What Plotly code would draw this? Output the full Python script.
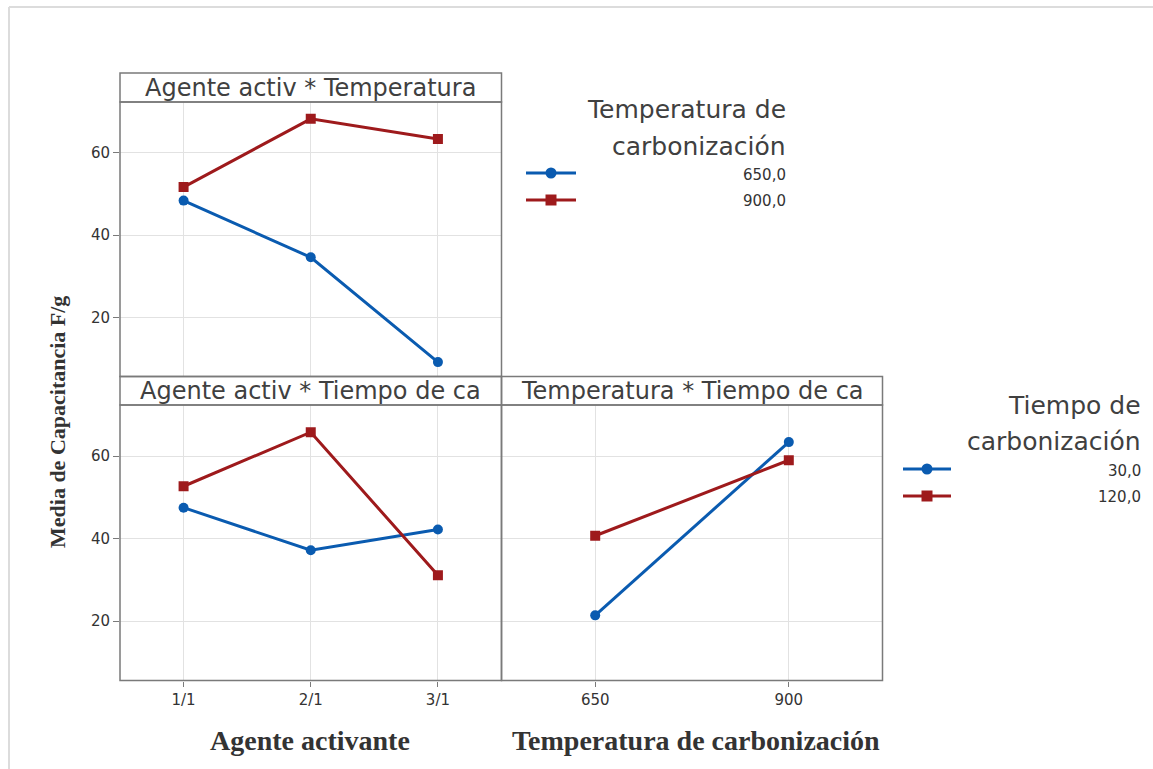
import plotly.graph_objects as go

# ---- data -------------------------------------------------------------
agente = ["1/1", "2/1", "3/1"]
temperaturas = [650, 900]

# Agente activ * Temperatura (one line per carbonization temperature)
at_650 = [48.4, 34.6, 9.1]
at_900 = [51.7, 68.3, 63.4]

# Agente activ * Tiempo de carbonizacion (one line per time)
ac_30 = [47.5, 37.2, 42.2]
ac_120 = [52.7, 65.8, 31.1]

# Temperatura * Tiempo de carbonizacion
tc_30 = [21.4, 63.4]
tc_120 = [40.7, 59.0]

y_ticks = [20, 40, 60]
legend_temp_labels = ["650,0", "900,0"]
legend_time_labels = ["30,0", "120,0"]

# ---- styling ----------------------------------------------------------
W, H = 1153, 769
BLUE = "#0a5bb0"
RED = "#9e1a1c"
FRAME = "#7a7a7a"
GRID = "#e2e2e2"
TXT = "#404040"
SANS = "DejaVu Sans, sans-serif"
SERIF = "Liberation Serif, Times New Roman, serif"


def px(x):
    return x / W


def py(y):
    return 1 - y / H


YRANGE = [5.6, 72.4]

fig = go.Figure()

blue_style = dict(mode="lines+markers", line=dict(color=BLUE, width=3),
                  marker=dict(symbol="circle", size=10, color=BLUE, opacity=1),
                  showlegend=False, hoverinfo="x+y")
red_style = dict(mode="lines+markers", line=dict(color=RED, width=3),
                 marker=dict(symbol="square", size=10, color=RED, opacity=1),
                 showlegend=False, hoverinfo="x+y")

cat_idx = list(range(len(agente)))

# top-left panel
fig.add_trace(go.Scatter(x=cat_idx, y=at_650, xaxis="x", yaxis="y", **blue_style))
fig.add_trace(go.Scatter(x=cat_idx, y=at_900, xaxis="x", yaxis="y", **red_style))
# bottom-left panel
fig.add_trace(go.Scatter(x=cat_idx, y=ac_30, xaxis="x2", yaxis="y2", **blue_style))
fig.add_trace(go.Scatter(x=cat_idx, y=ac_120, xaxis="x2", yaxis="y2", **red_style))
# bottom-right panel
fig.add_trace(go.Scatter(x=temperaturas, y=tc_30, xaxis="x3", yaxis="y3", **blue_style))
fig.add_trace(go.Scatter(x=temperaturas, y=tc_120, xaxis="x3", yaxis="y3", **red_style))

L, M, R = 120, 501.5, 882.5
T1, B1 = 102, 376.5
T2, B2 = 405, 680.5

tick_font = dict(family=SANS, size=15, color="#333333")
common_x = dict(showline=False, showgrid=True, gridcolor=GRID, gridwidth=1,
                zeroline=False, tickfont=tick_font, ticks="outside", ticklen=5,
                tickcolor=FRAME, fixedrange=True)
common_y = dict(showline=False, showgrid=True, gridcolor=GRID, gridwidth=1,
                zeroline=False, range=YRANGE, tickvals=y_ticks, tickfont=tick_font,
                ticks="outside", ticklen=6, tickcolor=FRAME, fixedrange=True)

fig.update_layout(
    width=W, height=H,
    margin=dict(l=0, r=0, t=0, b=0),
    paper_bgcolor="white", plot_bgcolor="rgba(0,0,0,0)",
    xaxis=dict(common_x, domain=[px(L), px(M)], range=[-0.5, 2.5], tickvals=cat_idx,
               ticktext=agente, showticklabels=False, ticks="", anchor="y"),
    yaxis=dict(common_y, domain=[py(B1), py(T1)], anchor="x"),
    xaxis2=dict(common_x, domain=[px(L), px(M)], range=[-0.5, 2.5], tickvals=cat_idx,
                ticktext=agente, anchor="y2"),
    yaxis2=dict(common_y, domain=[py(B2), py(T2)], anchor="x2"),
    xaxis3=dict(common_x, domain=[px(M), px(R)], range=[529, 1021],
                tickvals=temperaturas, ticktext=[str(t) for t in temperaturas], anchor="y3"),
    yaxis3=dict(common_y, domain=[py(B2), py(T2)], showticklabels=False, ticks="",
                anchor="x3"),
    xaxis4=dict(domain=[0, 1], range=[0, W], visible=False, fixedrange=True, anchor="y4"),
    yaxis4=dict(domain=[0, 1], range=[H, 0], visible=False, fixedrange=True, anchor="x4"),
)

# legend keys: a short line with the series marker in the middle
legend_keys = [
    (526, 576, 173, BLUE, "circle"),
    (526, 576, 200, RED, "square"),
    (903, 951, 469, BLUE, "circle"),
    (903, 951, 496, RED, "square"),
]
shapes = []
for x0, x1, yy, col, sym in legend_keys:
    shapes.append(dict(type="line", xref="paper", yref="paper", x0=px(x0), x1=px(x1),
                       y0=py(yy), y1=py(yy), line=dict(color=col, width=3)))
    fig.add_trace(go.Scatter(
        x=[(x0 + x1) / 2], y=[yy], xaxis="x4", yaxis="y4", mode="markers",
        marker=dict(symbol=sym, size=11, color=col, opacity=1),
        showlegend=False, hoverinfo="skip"))

# panel frames and strip boxes
panels = [(L, M, T1, B1), (L, M, T2, B2), (M, R, T2, B2)]
for x0, x1, y0, y1 in panels:
    shapes.append(dict(type="rect", xref="paper", yref="paper",
                       x0=px(x0), x1=px(x1), y0=py(y1), y1=py(y0),
                       line=dict(color=FRAME, width=1.5), layer="above"))

strips = [
    (L, M, 73, T1, "Agente activ * Temperatura"),
    (L, M, B1, T2, "Agente activ * Tiempo de ca"),
    (M, R, B1, T2, "Temperatura * Tiempo de ca"),
]
annotations = []
for x0, x1, y0, y1, label in strips:
    shapes.append(dict(type="rect", xref="paper", yref="paper",
                       x0=px(x0), x1=px(x1), y0=py(y1), y1=py(y0),
                       line=dict(color=FRAME, width=1.5), layer="above"))
    annotations.append(dict(xref="paper", yref="paper", x=px((x0 + x1) / 2),
                            y=py((y0 + y1) / 2), text=label, showarrow=False,
                            xanchor="center", yanchor="middle",
                            font=dict(family=SANS, size=24, color=TXT)))

# light outer frame along top and left edges
shapes.append(dict(type="line", xref="paper", yref="paper", x0=px(9), x1=1,
                   y0=py(7), y1=py(7), line=dict(color="#dcdcdc", width=2)))
shapes.append(dict(type="line", xref="paper", yref="paper", x0=px(9), x1=px(9),
                   y0=py(7), y1=0, line=dict(color="#dcdcdc", width=2)))

# axis titles
annotations.append(dict(xref="paper", yref="paper", x=px(57), y=py(422),
                        text="<b>Media de Capacitancia F/g</b>", textangle=-90,
                        showarrow=False, xanchor="center", yanchor="middle",
                        font=dict(family=SERIF, size=22, color="#333333")))
annotations.append(dict(xref="paper", yref="paper", x=px(310), y=py(740),
                        text="<b>Agente activante</b>", showarrow=False,
                        xanchor="center", yanchor="middle",
                        font=dict(family=SERIF, size=28, color="#333333")))
annotations.append(dict(xref="paper", yref="paper", x=px(696), y=py(740),
                        text="<b>Temperatura de carbonización</b>", showarrow=False,
                        xanchor="center", yanchor="middle",
                        font=dict(family=SERIF, size=28, color="#333333")))

# legend titles and labels
legend_blocks = [
    (788, ["Temperatura de", "carbonización"], [109, 146], legend_temp_labels, [175, 201]),
    (1143, ["Tiempo de", "carbonización"], [405, 441], legend_time_labels, [471, 497]),
]
for xr, title_lines, title_ys, labels, label_ys in legend_blocks:
    for t, yy in zip(title_lines, title_ys):
        annotations.append(dict(xref="paper", yref="paper", x=px(xr), y=py(yy), text=t,
                                showarrow=False, xanchor="right", yanchor="middle",
                                font=dict(family=SANS, size=25, color=TXT)))
    for t, yy in zip(labels, label_ys):
        annotations.append(dict(xref="paper", yref="paper", x=px(xr), y=py(yy), text=t,
                                showarrow=False, xanchor="right", yanchor="middle",
                                font=dict(family=SANS, size=15, color="#333333")))

fig.update_layout(shapes=shapes, annotations=annotations)

fig.write_html("out.html", config={"displayModeBar": False})
